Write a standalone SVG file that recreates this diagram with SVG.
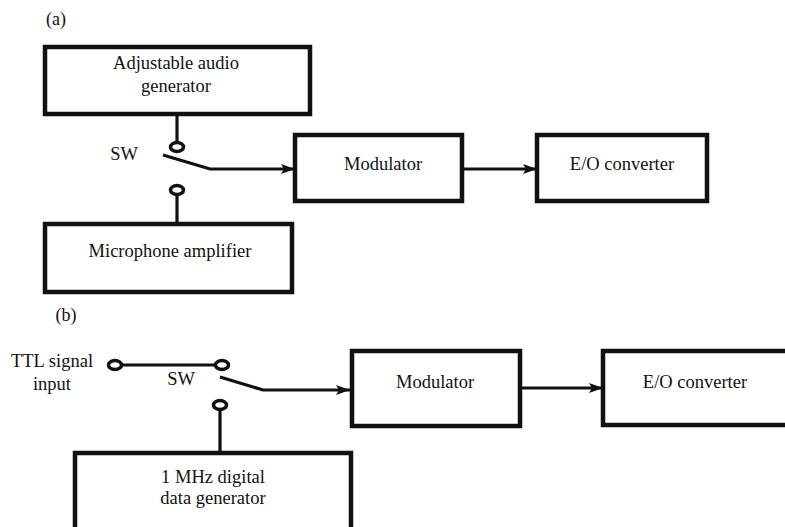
<svg xmlns="http://www.w3.org/2000/svg" width="785" height="527" viewBox="0 0 785 527">
<style>
text{font-family:"Liberation Serif","Times New Roman",serif;font-size:18.5px;fill:#111;text-anchor:middle}
.box{fill:#fff;stroke:#111;stroke-width:4.5}
.w{fill:none;stroke:#111;stroke-width:3.2}
.t{fill:#fff;stroke:#111;stroke-width:3.5}
</style>
<defs>
<marker id="ah" viewBox="0 0 14 10" refX="14" refY="5" markerWidth="14" markerHeight="10" markerUnits="userSpaceOnUse" orient="auto">
<path d="M0,0 L14,5 L0,10 L3,5 Z" fill="#111"/>
</marker>
</defs>
<rect width="785" height="527" fill="#fff"/>
<text x="56" y="25" style="font-size:18px">(a)</text>
<text x="66" y="321" style="font-size:18px">(b)</text>
<g id="connectors">
<line class="w" x1="177" y1="114" x2="177" y2="142"/>
<line class="w" x1="177" y1="195" x2="177" y2="224"/>
<polyline class="w" points="163,155 210,169 295,169" marker-end="url(#ah)"/>
<line class="w" x1="462" y1="169" x2="537" y2="169" marker-end="url(#ah)"/>
<line class="w" x1="121" y1="365" x2="216" y2="365"/>
<line class="w" x1="220" y1="410" x2="220" y2="453"/>
<polyline class="w" points="220,377 263,390 350,390" marker-end="url(#ah)"/>
<line class="w" x1="520" y1="388" x2="603" y2="388" marker-end="url(#ah)"/>
</g>
<g id="sw-a">
<ellipse class="t" cx="177" cy="147" rx="6.5" ry="4.5"/>
<ellipse class="t" cx="177" cy="190" rx="6.5" ry="4.5"/>
<text x="124" y="160">SW</text>
</g>
<g id="sw-b">
<ellipse class="t" cx="115" cy="365" rx="6.5" ry="4.5"/>
<ellipse class="t" cx="222" cy="365" rx="6.5" ry="4.5"/>
<ellipse class="t" cx="220" cy="405" rx="6.5" ry="4.5"/>
<text x="181" y="385">SW</text>
</g>
<g id="audio-gen">
<rect class="box" x="45" y="47" width="265" height="67"/>
<text x="176" y="69">Adjustable audio</text>
<text x="176" y="92">generator</text>
</g>
<g id="mic-amp">
<rect class="box" x="45" y="224" width="247" height="68"/>
<text x="170" y="257">Microphone amplifier</text>
</g>
<g id="mod-a">
<rect class="box" x="295" y="135" width="167" height="66"/>
<text x="383" y="170">Modulator</text>
</g>
<g id="eo-a">
<rect class="box" x="537" y="135" width="170" height="66"/>
<text x="622" y="170">E/O converter</text>
</g>
<g id="ttl-input">
<text x="52" y="367">TTL signal</text>
<text x="52" y="390">input</text>
</g>
<g id="data-gen">
<rect class="box" x="75" y="453" width="276" height="90"/>
<text x="213" y="483">1 MHz digital</text>
<text x="213" y="504">data generator</text>
</g>
<g id="mod-b">
<rect class="box" x="352" y="351" width="168" height="75"/>
<text x="435" y="388">Modulator</text>
</g>
<g id="eo-b">
<rect class="box" x="603" y="351" width="200" height="74"/>
<text x="695" y="388">E/O converter</text>
</g>
</svg>
